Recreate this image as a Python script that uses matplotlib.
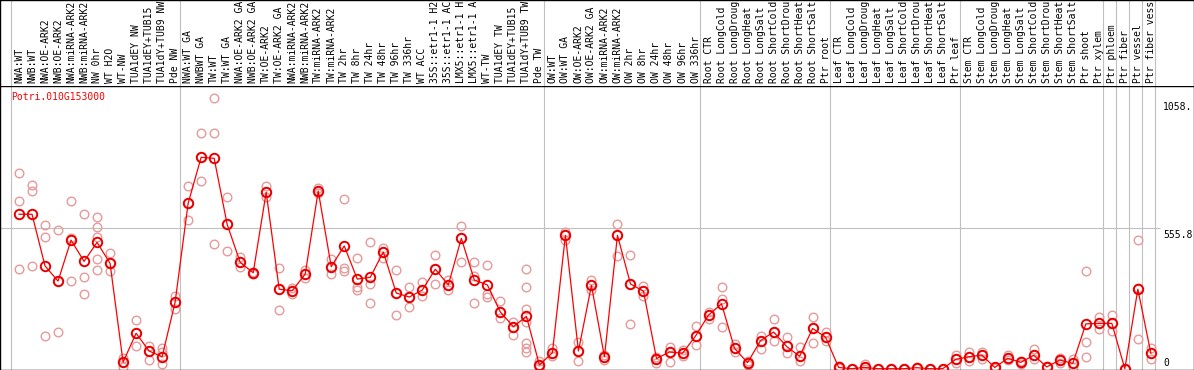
#!/usr/bin/env python3

import matplotlib
matplotlib.use('Agg')
import matplotlib.pyplot as plt

gene_id = 'Potri.010G153000'

# sample names, cut at 14 characters like in the source chart
samples = [
    'NWA:WT', 'NWB:WT', 'NWA:OE-ARK2', 'NWB:OE-ARK2', 'NWA:miRNA-ARK2',
    'NWB:miRNA-ARK2', 'NW 0hr', 'WT H2O', 'WT-NW', 'TUA1dEY NW',
    'TUA1dEY+TUB15 ', 'TUA1dY+TUB9 NW', 'Pde NW', 'NWA:WT GA', 'NWBWT GA',
    'TW:WT', 'TW:WT GA', 'NWA:OE-ARK2 GA', 'NWB:OE-ARK2 GA', 'TW:OE-ARK2',
    'TW:OE-ARK2 GA', 'NWA:miRNA-ARK2', 'NWB:miRNA-ARK2', 'TW:miRNA-ARK2',
    'TW:miRNA-ARK2', 'TW 2hr', 'TW 8hr', 'TW 24hr', 'TW 48hr', 'TW 96hr',
    'TW 336hr', 'WT ACC', '35S::etr1-1 H2', '35S::etr1-1 AC', 'LMX5::etr1-1 H',
    'LMX5::etr1-1 A', 'WT-TW', 'TUA1dEY TW', 'TUA1dEY+TUB15 ', 'TUA1dY+TUB9 TW',
    'Pde TW', 'OW:WT', 'OW:WT GA', 'OW:OE-ARK2', 'OW:OE-ARK2 GA',
    'OW:miRNA-ARK2', 'OW:miRNA-ARK2', 'OW 2hr', 'OW 8hr', 'OW 24hr',
    'OW 48hr', 'OW 96hr', 'OW 336hr', 'Root CTR', 'Root LongCold',
    'Root LongDroug', 'Root LongHeat', 'Root LongSalt', 'Root ShortCold',
    'Root ShortDrou', 'Root ShortHeat', 'Root ShortSalt', 'Ptr root',
    'Leaf CTR', 'Leaf LongCold', 'Leaf LongDroug', 'Leaf LongHeat',
    'Leaf LongSalt', 'Leaf ShortCold', 'Leaf ShortDrou', 'Leaf ShortHeat',
    'Leaf ShortSalt', 'Ptr leaf', 'Stem CTR', 'Stem LongCold',
    'Stem LongDroug', 'Stem LongHeat', 'Stem LongSalt', 'Stem ShortCold',
    'Stem ShortDrou', 'Stem ShortHeat', 'Stem ShortSalt', 'Ptr shoot',
    'Ptr xylem', 'Ptr phloem', 'Ptr fiber', 'Ptr vessel', 'Ptr fiber vess',
]

# mean expression per sample
means = [
    610, 610, 406, 346, 508, 424, 499, 416, 26, 140,
    70, 47, 263, 653, 835, 831, 570, 420, 379, 697,
    314, 308, 374, 702, 403, 485, 354, 361, 461, 299,
    283, 311, 393, 331, 515, 350, 331, 224, 166, 207,
    15, 63, 527, 70, 329, 47, 527, 335, 306, 40,
    66, 61, 129, 212, 256, 80, 24, 111, 145, 88,
    49, 159, 124, 5, 0, 5, 0, 0, 0, 4,
    0, 0, 37, 47, 54, 5, 41, 25, 53, 7,
    34, 21, 177, 179, 179, 0, 314, 61,
]

# replicate values per sample
replicates = [
    [772, 662, 393], [726, 702, 406], [568, 520, 129], [548, 346, 145],
    [662, 517, 346], [610, 361, 295], [599, 560, 520, 432, 390], [456, 386, 416],
    [43, 8, 26], [192, 90, 140], [90, 34, 70], [80, 65, 19],
    [287, 236, 263], [720, 587, 653], [930, 741, 835], [1068, 930, 492],
    [677, 464, 570], [442, 403, 420], [379, 375, 383], [722, 679, 697],
    [397, 232, 314], [320, 295, 308], [390, 358, 374], [713, 702, 695],
    [432, 374, 403], [669, 397, 384], [436, 321, 311], [499, 334, 258],
    [475, 436, 461], [388, 211, 299], [323, 242, 283], [341, 287, 311],
    [449, 334, 393], [350, 311, 331], [564, 420, 515], [420, 366, 258],
    [410, 295, 285], [267, 199, 224], [183, 132, 166],
    [393, 322, 236, 183, 100, 83, 66],
    [32, 15, 5], [83, 51, 63], [541, 508, 527], [107, 32, 70],
    [350, 311, 329], [54, 34, 47], [570, 445, 527], [448, 177, 335],
    [327, 287, 306], [47, 24, 40], [87, 26, 66], [74, 50, 61],
    [168, 93, 129], [222, 198, 212], [323, 275, 164], [97, 66, 80],
    [32, 15, 24], [129, 76, 111], [196, 111, 145], [124, 61, 88],
    [85, 32, 49], [203, 103, 159], [145, 111, 124], [11, 2, 5],
    [0, 0, 0], [19, 0, 5], [0, 0, 0], [0, 0, 0],
    [0, 0, 0], [8, 2, 4], [0, 0, 0], [0, 0, 0],
    [54, 24, 37], [66, 32, 47], [66, 40, 54], [5, 3, 7],
    [53, 34, 41], [32, 20, 25], [79, 37, 53], [7, 5, 9],
    [43, 21, 34], [37, 8, 21], [385, 104, 45], [203, 158, 179],
    [212, 150, 179], [0, 0, 0], [507, 117, 318], [83, 40, 61],
]

# first sample of each group (gray separators)
group_starts = [0, 13, 41, 53, 63, 73, 84, 85, 86, 87, 88]

y_ticks = [0, 555.8, 1058]
y_tick_labels = ['0', '555.8', '1058.']


def main():
    W, H = 1194, 370
    top_h = 85.5                 # pixel height of the label strip
    x0, dx = 19.0, 13.01         # pixel of first sample, pixel step
    y_zero, px_per_unit = 368.7, 1 / 3.95

    mono = 'DejaVu Sans Mono'
    fs = 7
    grid = '#c0c0c0'
    red = '#ff0000'
    pink = '#e89a9a'

    fig = plt.figure(figsize=(W / 100, H / 100), dpi=100)
    fig.patch.set_facecolor('white')

    ax = fig.add_axes([0, 0, 1, (H - top_h) / H])
    ax_lab = fig.add_axes([0, (H - top_h) / H, 1, top_h / H], sharex=ax)

    xlim = (-x0 / dx, (W - x0) / dx)
    ylim = (-(H - y_zero) / px_per_unit, (y_zero - top_h) / px_per_unit)

    # separators
    for s in group_starts:
        ax.axvline(s - 0.65, color=grid, lw=0.8, zorder=0)
        ax_lab.axvline(s - 0.65, color=grid, lw=0.8, zorder=0)
    ax.hlines(555.8, xlim[0], 87.7, color=grid, lw=0.8, zorder=0)

    # replicates
    for i, reps in enumerate(replicates):
        ax.plot([i] * len(reps), reps, linestyle='', marker='o',
                markersize=6.2, mfc='none', mec=pink, mew=1.0, zorder=2)

    # means
    xs = list(range(len(means)))
    ax.plot(xs, means, color=red, lw=0.9, zorder=3)
    ax.plot(xs, means, linestyle='', marker='o', markersize=6.8,
            mfc='none', mec='#e80000', mew=1.4, zorder=4)

    ax.text(-0.62, 1072, gene_id, color=red, family=mono, fontsize=fs,
            ha='left', va='center')

    for v, lab in zip(y_ticks, y_tick_labels):
        if v == 0:
            ax.text(87.95, v + 1, lab, family=mono, fontsize=fs,
                    ha='left', va='bottom')
        else:
            ax.text(87.95, v - 6, lab, family=mono, fontsize=fs,
                    ha='left', va='top')

    for i, name in enumerate(samples):
        ax_lab.text(i, 0.03, name, rotation=90, family=mono, fontsize=fs,
                    ha='center', va='bottom')

    ax.set_xlim(*xlim)
    ax.set_ylim(*ylim)
    ax_lab.set_ylim(0, 1)
    for a in (ax, ax_lab):
        a.set_xticks([])
        a.set_yticks([])
        for sp in a.spines.values():
            sp.set_color('black')
            sp.set_linewidth(1.0)
    ax_lab.spines['bottom'].set_visible(False)

    fig.savefig('out.png', dpi=100, facecolor='white')


if __name__ == '__main__':
    main()
